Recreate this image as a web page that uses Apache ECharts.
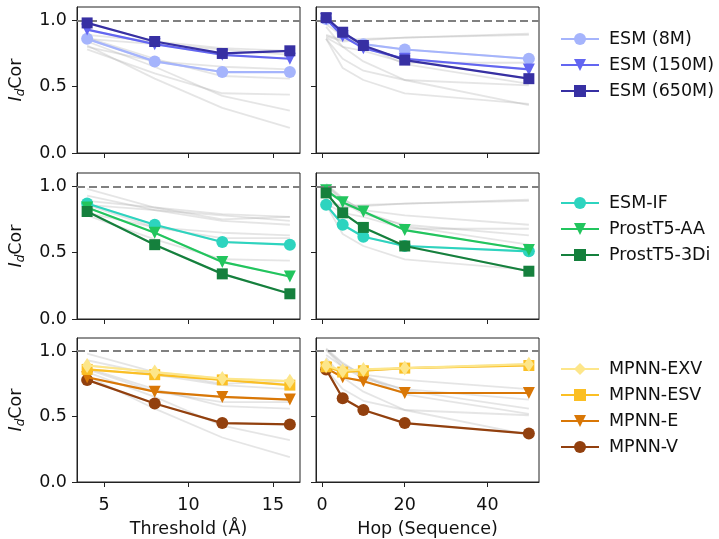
<!DOCTYPE html>
<html>
<head>
<meta charset="utf-8">
<script src="https://cdn.jsdelivr.net/npm/echarts@6/dist/echarts.min.js"></script>
<style>
  html, body { margin: 0; padding: 0; background: #fff; }
  #main { width: 719px; height: 539px; }
</style>
</head>
<body>
<div id="main"></div>
<script>
// x values of the two columns
const thresholds = [4, 8, 12, 16];
const hops = [1, 5, 10, 20, 50];

// models, in legend order
const models = ['ESM (8M)', 'ESM (150M)', 'ESM (650M)', 'ESM-IF', 'ProstT5-AA', 'ProstT5-3Di',
  'MPNN-EXV', 'MPNN-ESV', 'MPNN-E', 'MPNN-V'];

// I_dCor vs threshold (one row per model)
const thresholdScores = [
  [0.86, 0.69, 0.61, 0.61],
  [0.93, 0.82, 0.74, 0.71],
  [0.98, 0.84, 0.75, 0.77],
  [0.87, 0.71, 0.58, 0.56],
  [0.84, 0.65, 0.43, 0.32],
  [0.81, 0.56, 0.34, 0.19],
  [0.89, 0.84, 0.79, 0.77],
  [0.86, 0.82, 0.78, 0.74],
  [0.80, 0.69, 0.65, 0.63],
  [0.78, 0.60, 0.45, 0.44]
];

// I_dCor vs hop
const hopScores = [
  [1.01, 0.90, 0.82, 0.78, 0.71],
  [1.01, 0.88, 0.79, 0.71, 0.63],
  [1.02, 0.91, 0.81, 0.70, 0.56],
  [0.86, 0.71, 0.62, 0.55, 0.51],
  [0.97, 0.88, 0.81, 0.67, 0.52],
  [0.95, 0.80, 0.69, 0.55, 0.36],
  [0.89, 0.85, 0.86, 0.87, 0.90],
  [0.88, 0.84, 0.85, 0.87, 0.89],
  [0.87, 0.80, 0.77, 0.68, 0.68],
  [0.86, 0.64, 0.55, 0.45, 0.37]
];

// which models are highlighted in each row
const groups = [[0, 1, 2], [3, 4, 5], [6, 7, 8, 9]];

const colors = ['#a5b4fc', '#6366f1', '#3730a3', '#2dd4bf', '#22c55e', '#15803d',
  '#fde68a', '#fbbf24', '#d97706', '#92400e'];

const downTri = 'path://M0,0 L10,0 L5,9 Z';
const symbols = ['circle', downTri, 'rect', 'circle', downTri, 'rect', 'diamond', 'rect', downTri, 'circle'];
const symbolSizes = [12, 12, 11, 12, 12, 11, [10, 15], 11, 12, 12];

const FONT = 'DejaVu Sans';
const FS = 17.5;

const myChart = echarts.init(document.getElementById('main'));

const rowTops = [7, 173, 338];
const rowH = 146;
const colLefts = [77, 316];
const colW = 223;
const legendTops = [25, 189, 355];

const grids = [], xAxes = [], yAxes = [], series = [], legends = [];

for (let r = 0; r < 3; r++) {
  for (let c = 0; c < 2; c++) {
    const gi = r * 2 + c;
    grids.push({
      left: colLefts[c], top: rowTops[r], width: colW, height: rowH,
      show: true, borderColor: '#222', borderWidth: 1, backgroundColor: 'transparent'
    });
    const xs = c === 0 ? thresholds : hops;
    const xTicks = c === 0 ? [5, 10, 15] : [0, 20, 40];
    xAxes.push({
      gridIndex: gi, type: 'value',
      min: c === 0 ? 3.4 : -1.45,
      max: c === 0 ? 16.6 : 52.45,
      axisLine: { show: true, onZero: false, lineStyle: { color: '#222', width: 1 } },
      axisTick: { show: true, length: 5, customValues: xTicks, lineStyle: { color: '#222' } },
      axisLabel: {
        show: r === 2, customValues: xTicks, margin: 14,
        fontFamily: FONT, fontSize: FS, color: '#111'
      },
      splitLine: { show: false },
      name: r === 2 ? (c === 0 ? 'Threshold (Å)' : 'Hop (Sequence)') : '',
      nameLocation: 'middle', nameGap: 38,
      nameTextStyle: { fontFamily: FONT, fontSize: FS, color: '#111' }
    });
    yAxes.push({
      gridIndex: gi, type: 'value', min: 0, max: 1.1,
      axisLine: { show: true, onZero: false, lineStyle: { color: '#222', width: 1 } },
      axisTick: { show: true, length: 5, customValues: [0, 0.5, 1.0], lineStyle: { color: '#222' } },
      axisLabel: {
        show: c === 0, customValues: [0, 0.5, 1.0], margin: 10,
        fontFamily: FONT, fontSize: FS, color: '#111',
        formatter: v => v.toFixed(1)
      },
      splitLine: { show: false },
      name: c === 0 ? '{i|I}{s|d}{n|Cor}' : '',
      nameLocation: 'middle', nameGap: 50, nameRotate: 90,
      nameTextStyle: {
        fontFamily: FONT, fontSize: FS, color: '#111',
        rich: {
          i: { fontFamily: FONT, fontSize: FS, fontStyle: 'italic', color: '#111', lineHeight: 22 },
          s: { fontFamily: FONT, fontSize: 12, fontStyle: 'italic', color: '#111', verticalAlign: 'bottom', lineHeight: 22, padding: [8, 0, 0, 0] },
          n: { fontFamily: FONT, fontSize: FS, color: '#111', lineHeight: 22 }
        }
      }
    });

    const scores = c === 0 ? thresholdScores : hopScores;
    // grey background lines for every model
    scores.forEach((vals, m) => {
      const s = {
        name: 'bg' + gi + '_' + m, type: 'line',
        xAxisIndex: gi, yAxisIndex: gi,
        data: vals.map((v, k) => [xs[k], v]),
        symbol: 'none', silent: true, z: 1,
        lineStyle: { color: 'rgba(170,170,170,0.3)', width: 1.8 }
      };
      if (m === 0) {
        s.markLine = {
          silent: true, symbol: 'none', label: { show: false },
          lineStyle: { color: '#808080', type: [8, 4], width: 2 },
          data: [{ yAxis: 1 }]
        };
      }
      series.push(s);
    });
    // highlighted models of this row (MPNN row is stacked the other way round)
    groups[r].forEach((m, k) => {
      series.push({
        name: models[m], type: 'line',
        xAxisIndex: gi, yAxisIndex: gi,
        data: scores[m].map((v, j) => [xs[j], v]),
        symbol: symbols[m], symbolSize: symbolSizes[m],
        showAllSymbol: true,
        z: r === 2 ? 10 - k : 3 + k,
        color: colors[m],
        lineStyle: { color: colors[m], width: 2.2 },
        itemStyle: { color: colors[m] }
      });
    });
  }
  legends.push({
    orient: 'vertical', left: 555, top: legendTops[r],
    itemWidth: 38, itemHeight: 15, itemGap: 8,
    data: groups[r].map(m => models[m]),
    textStyle: { fontFamily: FONT, fontSize: FS, color: '#111', lineHeight: 18, padding: [0, 0, 0, 5] },
    selectedMode: false
  });
}

const option = {
  animation: false,
  backgroundColor: '#fff',
  grid: grids,
  xAxis: xAxes,
  yAxis: yAxes,
  legend: legends,
  series: series
};

myChart.setOption(option);
</script>
</body>
</html>
